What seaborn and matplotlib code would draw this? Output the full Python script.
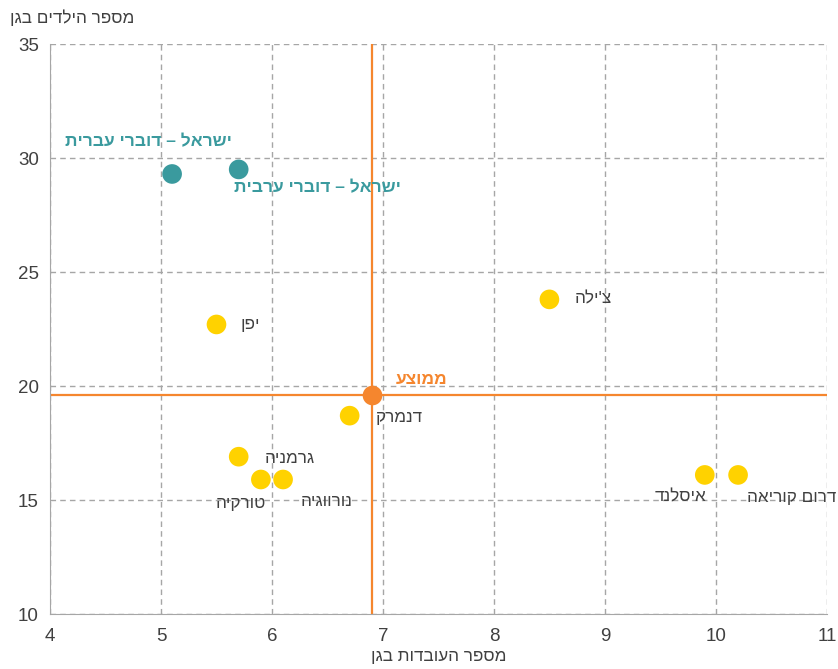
import matplotlib
matplotlib.use("Agg")
import matplotlib.pyplot as plt
import seaborn as sns
import pandas as pd

# data
countries = ["ישראל – דוברי עברית", "ישראל – דוברי ערבית", "יפן", "צ'ילה", "דנמרק",
             "גרמניה", "טורקיה", "נורווגיה", "איסלנד", "דרום קוריאה"]
groups = ["israel", "israel", "oecd", "oecd", "oecd", "oecd", "oecd", "oecd", "oecd", "oecd"]
staff = [5.1, 5.7, 5.5, 8.5, 6.7, 5.7, 5.9, 6.1, 9.9, 10.2]
children = [29.3, 29.5, 22.7, 23.8, 18.7, 16.9, 15.9, 15.9, 16.1, 16.1]
avg_label = "ממוצע"
avg_staff = 6.9
avg_children = 19.6

# label offsets in points (right edge of text relative to the point)
offsets = [(43, 23), (117, -13), (31, 0), (45, 0), (53, -1),
           (55, -1), (4, -17), (50, -16), (1.5, -16), (71, -16)]

TEAL = "#3a9a9e"
YELLOW = "#ffd200"
ORANGE = "#f5862e"
GREY = "#404040"


def rtl(s):
    # matplotlib has no bidi support, so flip Hebrew for display
    return s[::-1]


sns.set_style("white")
plt.rcParams["font.family"] = ["Liberation Sans", "DejaVu Sans"]

df = pd.DataFrame({"country": countries, "group": groups, "staff": staff, "children": children})

fig = plt.figure(figsize=(8.38, 6.69), dpi=100)
ax = fig.add_axes([0.0597, 0.0822, 0.927, 0.852])

ax.axvline(avg_staff, color=ORANGE, lw=1.6, zorder=2)
ax.axhline(avg_children, color=ORANGE, lw=1.6, zorder=2)

sns.scatterplot(data=df, x="staff", y="children", hue="group",
                palette={"israel": TEAL, "oecd": YELLOW}, s=200, linewidth=0,
                legend=False, ax=ax, zorder=3)
ax.scatter([avg_staff], [avg_children], s=200, color=ORANGE, linewidth=0, zorder=4)

for name, grp, x, y, off in zip(countries, groups, staff, children, offsets):
    if grp == "israel":
        ax.annotate(rtl(name), (x, y), xytext=off, textcoords="offset points",
                    ha="right", va="center", fontsize=12.5, fontweight="bold", color=TEAL)
    else:
        ax.annotate(rtl(name), (x, y), xytext=off, textcoords="offset points",
                    ha="right", va="center", fontsize=12.3, color=GREY)
ax.annotate(rtl(avg_label), (avg_staff, avg_children), xytext=(54, 11), textcoords="offset points",
            ha="right", va="center", fontsize=12.5, fontweight="bold", color=ORANGE)

ax.set_xlim(4, 11)
ax.set_ylim(10, 35)
ax.set_xticks(range(4, 12))
ax.set_yticks(range(10, 36, 5))
ax.grid(True, linestyle=(0, (4, 3)), color="#a6a6a6", linewidth=1)
ax.set_axisbelow(True)
for side in ["top", "right"]:
    ax.spines[side].set_visible(False)
for side in ["left", "bottom"]:
    ax.spines[side].set_color("#a6a6a6")
ax.tick_params(axis="both", labelsize=13.5, labelcolor=GREY, length=0)
ax.tick_params(axis="x", pad=10)
ax.tick_params(axis="y", pad=8)

ax.set_xlabel(rtl("מספר העובדות בגן"), fontsize=12.3, color=GREY, labelpad=3)
ax.set_ylabel("")
fig.text(10 / 838, 1 - 18 / 669, rtl("מספר הילדים בגן"), fontsize=12.3, color=GREY,
         ha="left", va="center")

fig.savefig("out.png", dpi=100)
plt.close(fig)
